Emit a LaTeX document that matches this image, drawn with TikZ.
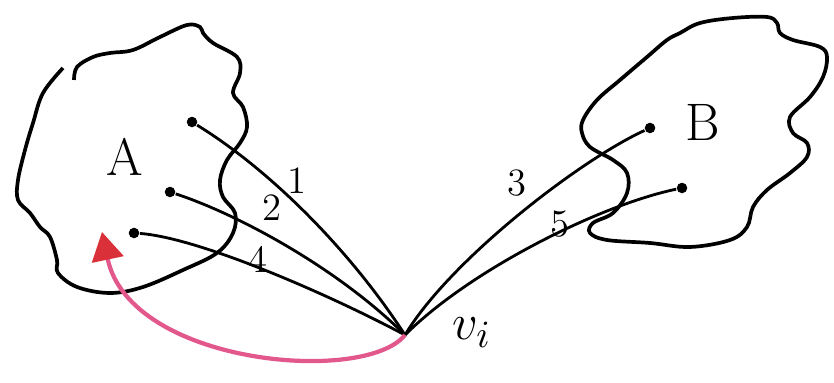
\documentclass[tikz,border=0pt]{standalone}
\definecolor{pinkline}{HTML}{E2578C}
\definecolor{redtip}{HTML}{D9303A}
\usepackage{tikz}
\usetikzlibrary{arrows.meta}

\begin{document}
\begin{tikzpicture}[
  x=0.01cm, y=-0.01cm,
  blob/.style={draw=black, line width=1.05pt, line join=round},
  edge/.style={draw=black, line width=0.8pt},
  dot/.style={circle, fill=black, inner sep=0pt, minimum size=3pt},
  lbl/.style={font=\fontsize{11}{12}\selectfont, inner sep=1pt},
  setname/.style={font=\fontsize{15}{17}\selectfont, inner sep=1pt},
]
\useasboundingbox (0,0) rectangle (834,383);

\draw[blob] plot[smooth, tension=0.6] coordinates {
  (74,80) (77,67) (93,57) (110,53) (133,50) (160,37) (187,25) (200,27)
  (203,33) (213,43) (237,57) (240,73) (233,93) (243,107) (247,127)
  (240,143) (227,160) (220,180) (223,197) (235,213) (233,233) (217,253)
  (183,270) (143,287) (110,293) (77,287) (58,273) (57,260) (50,237)
  (40,227) (30,213) (18,200) (18,180) (25,150) (33,123) (43,93) (63,68)};

\draw[blob] plot[smooth cycle, tension=0.6] coordinates {
  (680,33) (700,23) (733,18) (767,17) (777,23) (780,33) (793,40) (820,47)
  (827,57) (823,77) (810,97) (790,117) (793,133) (807,143) (807,157)
  (790,173) (767,190) (753,207) (747,227) (730,240) (690,247) (650,243)
  (607,240) (590,233) (593,223) (613,213) (627,193) (627,173) (613,160)
  (590,147) (582,133) (583,120) (597,100) (620,80) (647,57) (667,40)};

\node[setname] (setA) at (125,157) {A};
\node[setname] (setB) at (703,122) {B};

\node[dot] (a1) at (192,122) {};
\node[dot] (a2) at (170,192) {};
\node[dot] (a4) at (134,233) {};
\node[dot] (b3) at (650,128) {};
\node[dot] (b5) at (682,188) {};
\coordinate (v) at (405,335);
\coordinate (tip) at (102,232);

\draw[edge] (a1) .. controls (270,170) and (350,250) .. (v);
\draw[edge] (a2) .. controls (240,215) and (340,270) .. (v);
\draw[edge] (a4) .. controls (200,238) and (330,295) .. (v);
\draw[edge] (b3) .. controls (580,160) and (450,260) .. (v);
\draw[edge] (b5) .. controls (600,205) and (470,270) .. (v);

\node[lbl] (l1) at (297,181) {1};
\node[lbl] (l2) at (272,208) {2};
\node[lbl] (l4) at (258,259) {4};
\node[lbl] (l3) at (517,183) {3};
\node[lbl] (l5) at (560,224) {5};
\node[setname] (vi) at (472,333) {$v_i$};

\draw[pinkline, line width=1.2pt,
      -{Triangle[length=8pt, width=9pt, fill=redtip, color=redtip]}]
  (v) .. controls (365,385) and (130,365) .. (tip);
\end{tikzpicture}
\end{document}
